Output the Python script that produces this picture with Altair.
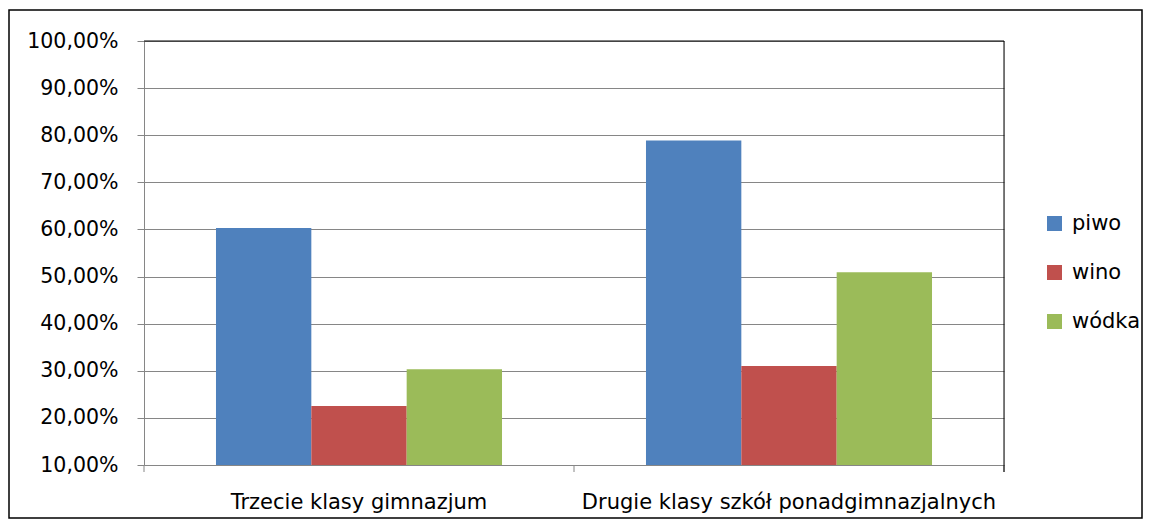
import altair as alt
import pandas as pd

categories = ["Trzecie klasy gimnazjum", "Drugie klasy szkół ponadgimnazjalnych"]
series = ["piwo", "wino", "wódka"]
piwo = [0.603, 0.789]
wino = [0.225, 0.310]
wodka = [0.303, 0.509]
y_ticks = [0.1, 0.2, 0.3, 0.4, 0.5, 0.6, 0.7, 0.8, 0.9, 1.0]
colors = ["#4F81BD", "#C0504D", "#9BBB59"]

rows = []
for i, c in enumerate(categories):
    for s, vals in zip(series, [piwo, wino, wodka]):
        rows.append({"kat": c, "seria": s, "wartosc": vals[i]})
df = pd.DataFrame(rows)

FONT = "DejaVu Sans"
GRAY = "#868686"
W, H = 860, 424
FS = 21

xscale = alt.Scale(domain=categories, paddingInner=0, paddingOuter=0)
yscale = alt.Scale(domain=[0.1, 1.0], zero=False, nice=False)

bars = alt.Chart(df).mark_bar(stroke=None).encode(
    x=alt.X("kat:N", sort=categories, scale=xscale,
            axis=alt.Axis(title=None, ticks=False, labelAngle=0, labelPadding=26,
                          labelFontSize=FS, labelFont=FONT, labelColor="#000000",
                          labelLimit=0, domainColor=GRAY, domainWidth=1)),
    xOffset=alt.XOffset("seria:N", sort=series,
                        scale=alt.Scale(domain=series, paddingInner=0, paddingOuter=0.755)),
    y=alt.Y("wartosc:Q", scale=yscale,
            axis=alt.Axis(title=None, values=y_ticks, tickSize=7, tickColor=GRAY,
                          labelPadding=19, labelFontSize=20.5, labelFont=FONT,
                          labelColor="#000000", domainColor=GRAY, gridColor=GRAY,
                          gridWidth=1,
                          labelExpr="replace(format(datum.value, '.2%'), '.', ',')")),
    y2=alt.datum(0.1),
    color=alt.Color("seria:N", sort=series,
                    scale=alt.Scale(domain=series, range=colors),
                    legend=alt.Legend(title=None, orient="none", legendX=900, legendY=172,
                                      symbolType="square", symbolSize=225,
                                      symbolStrokeWidth=0, labelFontSize=FS,
                                      labelFont=FONT, labelColor="#000000",
                                      rowPadding=27, labelOffset=7)),
)

tick_df = pd.DataFrame({"kat": categories})
ticks_left = alt.Chart(tick_df).mark_rule(color=GRAY, strokeWidth=1).encode(
    x=alt.X("kat:N", sort=categories, scale=xscale, bandPosition=0),
    y=alt.value(H), y2=alt.value(H + 7),
)
ticks_right = alt.Chart(tick_df.iloc[[-1]]).mark_rule(color=GRAY, strokeWidth=1).encode(
    x=alt.X("kat:N", sort=categories, scale=xscale, bandPosition=1),
    y=alt.value(H), y2=alt.value(H + 7),
)

# plot-area border: top and right edges in black
top_edge = alt.Chart(pd.DataFrame({"v": [1.0]})).mark_rule(color="#000000", strokeWidth=1).encode(
    y=alt.Y("v:Q", scale=yscale), x=alt.value(0), x2=alt.value(W),
)
right_edge = alt.Chart(tick_df.iloc[[-1]]).mark_rule(color="#000000", strokeWidth=1).encode(
    x=alt.X("kat:N", sort=categories, scale=xscale, bandPosition=1),
    y=alt.value(0), y2=alt.value(H + 7),
)

frame = alt.Chart(pd.DataFrame({"f": [0]})).mark_rect(
    fill=None, stroke="#000000", strokeWidth=1.5
).encode(
    x=alt.value(-135), x2=alt.value(W + 138),
    y=alt.value(-31), y2=alt.value(H + 53),
)

chart = alt.layer(bars, ticks_left, ticks_right, top_edge, right_edge, frame).properties(
    width=W, height=H,
    autosize=alt.AutoSizeParams(type="none"),
    padding={"left": 136, "top": 33, "right": 140, "bottom": 54},
).configure_view(stroke=None).configure(font=FONT)

chart.save("out.html", embed_options={"renderer": "svg", "actions": False})
